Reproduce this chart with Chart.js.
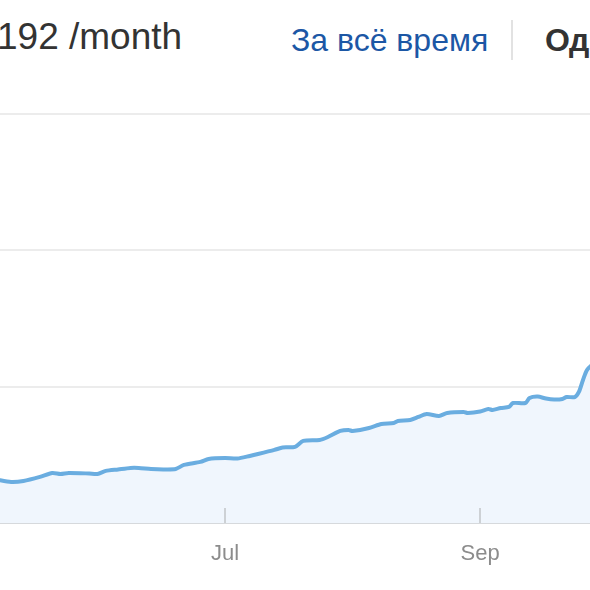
<!DOCTYPE html>
<html>
<head>
<meta charset="utf-8">
<script src="https://cdn.jsdelivr.net/npm/chart.js@4/dist/chart.umd.min.js"></script>
<style>
  html, body { margin: 0; padding: 0; background: #fff; overflow: hidden; }
  body { width: 590px; height: 590px; position: relative; font-family: "Liberation Sans", Arial, sans-serif; }
  .total { position: absolute; left: -3px; top: 16px; font-size: 37px; color: #333; white-space: nowrap; }
  .range { position: absolute; left: 291px; top: 22px; font-size: 32px; color: #1c57a5; white-space: nowrap; }
  .sep { position: absolute; left: 511px; top: 20px; width: 2px; height: 40px; background: #e2e2e2; }
  .period { position: absolute; left: 545px; top: 22px; font-size: 32px; font-weight: bold; color: #333; white-space: nowrap; }
  #wrap { position: absolute; left: 0; top: 0; width: 590px; height: 590px; }
</style>
</head>
<body>
<div class="total">192 /month</div>
<div class="range">За всё время</div>
<div class="sep"></div>
<div class="period">Одна неделя</div>
<div id="wrap"><canvas id="chart"></canvas></div>
<script>
// Dates and values (visible window is roughly May 7 - Sep 27)
const dates = [
  '2017-05-06', '2017-05-07', '2017-05-10', '2017-05-13', '2017-05-17', '2017-05-20', '2017-05-22', '2017-05-24',
  '2017-05-29', '2017-05-31', '2017-06-02', '2017-06-05', '2017-06-08', '2017-06-10', '2017-06-13', '2017-06-16',
  '2017-06-19', '2017-06-21', '2017-06-25', '2017-06-27', '2017-07-01', '2017-07-04', '2017-07-07', '2017-07-09',
  '2017-07-13', '2017-07-15', '2017-07-18', '2017-07-20', '2017-07-24', '2017-07-26', '2017-07-29', '2017-07-31',
  '2017-08-01', '2017-08-05', '2017-08-08', '2017-08-11', '2017-08-12', '2017-08-15', '2017-08-17', '2017-08-19',
  '2017-08-22', '2017-08-24', '2017-08-28', '2017-08-29', '2017-09-01', '2017-09-03', '2017-09-04', '2017-09-06',
  '2017-09-08', '2017-09-09', '2017-09-12', '2017-09-13', '2017-09-15', '2017-09-17', '2017-09-19', '2017-09-21',
  '2017-09-22', '2017-09-24', '2017-09-25', '2017-09-26', '2017-09-27', '2017-09-29',
];
const values = [
  323, 315, 301, 308, 338, 367, 360, 367,
  363, 360, 382, 393, 404, 404, 396, 393,
  396, 426, 448, 470, 477, 473, 492, 506,
  536, 554, 558, 602, 609, 631, 675, 682,
  675, 697, 726, 734, 748, 756, 778, 800,
  785, 807, 814, 807, 818, 836, 829, 844,
  851, 880, 880, 917, 927, 913, 906, 910,
  924, 924, 961, 1049, 1123, 1181,
];

// x axis: month ticks
const monthTickDates = ['2017-07-01', '2017-09-01'];
const monthTickLabels = ['Jul', 'Sep'];
const viewStart = '2017-05-07';
const viewEnd = '2017-09-27';

// y axis gridlines
const yMin = 0;
const yMax = 3000;
const yStep = 1000;

// Turn a date string into the day number of the year
const dayOfYear = (str) => {
  const [y, m, d] = str.split('-').map(Number);
  return (Date.UTC(y, m - 1, d) - Date.UTC(y, 0, 1)) / 86400000 + 1;
};

const points = dates.map((d, i) => ({ x: dayOfYear(d), y: values[i] }));
const tickDays = monthTickDates.map(dayOfYear);

// short tick marks standing up from the x axis, inside the plot
const innerTicks = {
  id: 'innerTicks',
  afterDatasetsDraw: (chart) => {
    const { ctx, scales: { x }, chartArea } = chart;
    ctx.save();
    ctx.strokeStyle = '#cdd1d5';
    ctx.lineWidth = 2;
    x.ticks.forEach((t) => {
      const px = Math.round(x.getPixelForValue(t.value));
      ctx.beginPath();
      ctx.moveTo(px, chartArea.bottom);
      ctx.lineTo(px, chartArea.bottom - 15);
      ctx.stroke();
    });
    ctx.restore();
  },
};

new Chart(document.querySelector('#chart'), {
  type: 'line',
  data: {
    datasets: [{
      data: points,
      borderColor: '#6aade0',
      borderWidth: 4,
      backgroundColor: '#f0f6fd',
      fill: 'origin',
      tension: 0.25,
      pointRadius: 0,
    }],
  },
  plugins: [innerTicks],
  options: {
    responsive: true,
    maintainAspectRatio: false,
    animation: false,
    layout: { padding: { top: 114, left: 0, right: 0, bottom: 0 } },
    plugins: { legend: { display: false }, tooltip: { enabled: false } },
    scales: {
      x: {
        type: 'linear',
        min: dayOfYear(viewStart) + 0.3,
        max: dayOfYear(viewEnd) + 0.7,
        afterBuildTicks: (scale) => { scale.ticks = tickDays.map(v => ({ value: v })); },
        afterFit: (scale) => { scale.height = 67; },
        ticks: {
          autoSkip: false,
          maxRotation: 0,
          padding: 18,
          color: '#8c8c8c',
          font: { family: 'Liberation Sans', size: 22 },
          callback: (value) => monthTickLabels[tickDays.indexOf(value)] || '',
        },
        grid: {
          drawOnChartArea: false,
          drawTicks: false,
        },
        border: { display: true, color: '#d6d9dc', width: 2 },
      },
      y: {
        min: yMin,
        max: yMax,
        afterFit: (scale) => { scale.width = 0; },
        ticks: { display: false, stepSize: yStep },
        grid: {
          drawTicks: false,
          lineWidth: 2,
          color: (ctx) => (ctx.tick && ctx.tick.value === 0 ? 'rgba(0,0,0,0)' : '#ececec'),
        },
        border: { display: false },
      },
    },
  },
});
</script>
</body>
</html>
